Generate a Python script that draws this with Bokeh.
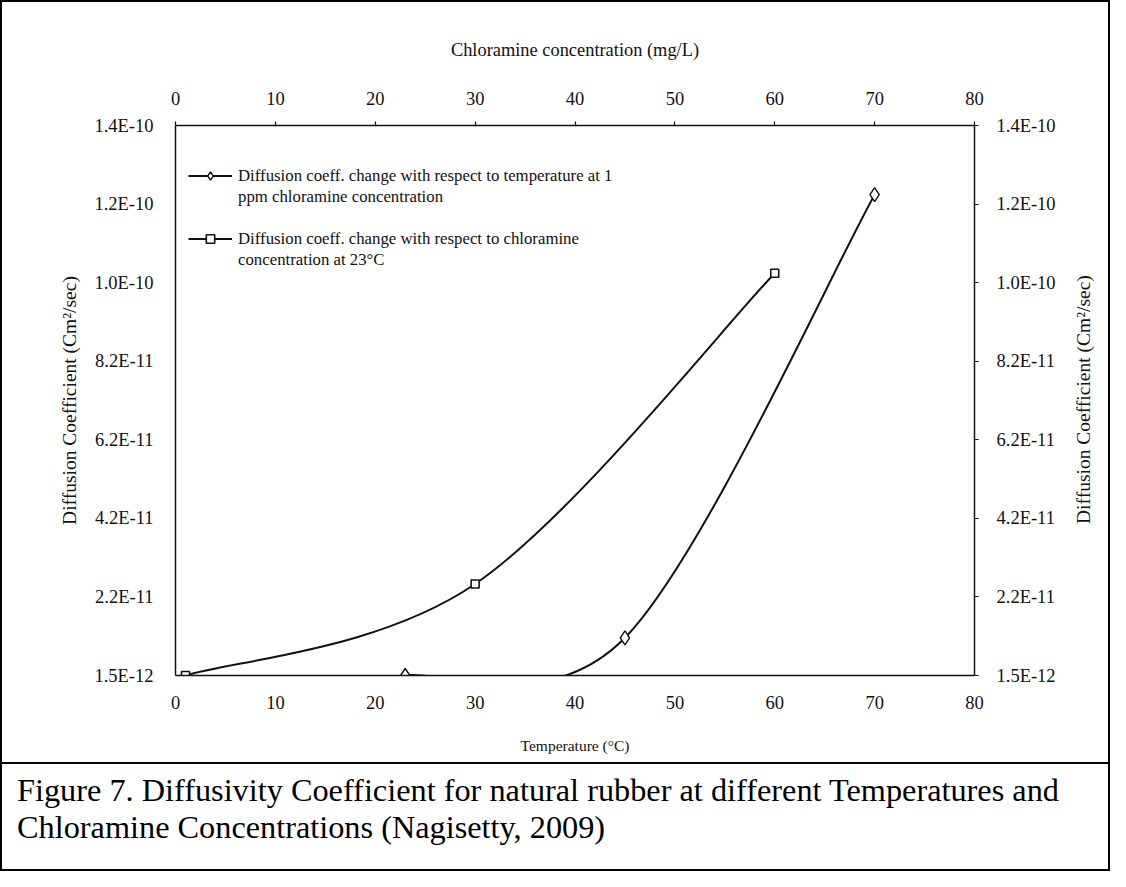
from bokeh.plotting import figure
from bokeh.models import (Range1d, LinearAxis, FixedTicker, Legend, LegendItem, Div)
from bokeh.layouts import column, row
from bokeh.embed import file_html
from bokeh.resources import INLINE

# ---------------- data ----------------
temp_x = [23, 45, 70]                       # Temperature (deg C)
temp_y = [1.5e-12, 1.11e-11, 1.239e-10]     # diffusion coeff (cm2/s)
conc_x = [1, 30, 60]                        # Chloramine concentration (mg/L)
conc_y = [1.5e-12, 2.48e-11, 1.039e-10]

x_ticks = [0, 10, 20, 30, 40, 50, 60, 70, 80]
y_ticks = [1.5e-12, 2.15e-11, 4.15e-11, 6.15e-11, 8.15e-11, 1.015e-10, 1.215e-10, 1.415e-10]
y_tick_labels = ["1.5E-12", "2.2E-11", "4.2E-11", "6.2E-11", "8.2E-11", "1.0E-10", "1.2E-10", "1.4E-10"]

legend_labels = [
    "Diffusion coeff. change with respect to temperature at 1",
    "ppm chloramine concentration",
    "Diffusion coeff. change with respect to chloramine",
    "concentration at 23\u00b0C",
]
x_title_bottom = "Temperature (\u00b0C)"
x_title_top = "Chloramine concentration (mg/L)"
y_title = "Diffusion Coefficient (Cm\u00b2/sec)"
caption_lines = [
    "Figure 7. Diffusivity Coefficient for natural rubber at different Temperatures and",
    "Chloramine Concentrations (Nagisetty, 2009)",
]

FONT = "Liberation Serif"
INK = "#111111"


def smooth_segments(xs, ys):
    """Cubic Bezier control points through the data (spreadsheet-style smoothing)."""
    n = len(xs)
    seg = {k: [] for k in ("x0", "y0", "x1", "y1", "cx0", "cy0", "cx1", "cy1")}
    for i in range(n - 1):
        xp, yp = (xs[i - 1], ys[i - 1]) if i > 0 else (xs[i], ys[i])
        xn, yn = (xs[i + 2], ys[i + 2]) if i + 2 < n else (xs[i + 1], ys[i + 1])
        seg["x0"].append(xs[i]); seg["y0"].append(ys[i])
        seg["x1"].append(xs[i + 1]); seg["y1"].append(ys[i + 1])
        seg["cx0"].append(xs[i] + (xs[i + 1] - xp) / 6.0)
        seg["cy0"].append(ys[i] + (ys[i + 1] - yp) / 6.0)
        seg["cx1"].append(xs[i + 1] - (xn - xs[i]) / 6.0)
        seg["cy1"].append(ys[i + 1] - (yn - ys[i]) / 6.0)
    return seg


W, H = 1106, 760          # whole chart box
RW = 50                   # strip holding the right-hand axis title
PW = W - RW               # figure width
FW, FH = 800, 550         # plot frame
p = figure(width=PW, height=H, output_backend="svg", toolbar_location=None,
           x_range=Range1d(0, 80), y_range=Range1d(y_ticks[0], y_ticks[-1]),
           x_axis_location=None, y_axis_location=None)
p.extra_x_ranges = {"conc": Range1d(0, 80)}
p.min_border_left = 173
p.min_border_right = PW - 173 - FW
p.min_border_top = 123
p.min_border_bottom = H - 123 - FH
p.outline_line_color = None
p.background_fill_color = "white"
p.border_fill_color = "white"
p.xgrid.visible = False
p.ygrid.visible = False

overrides = {t: l for t, l in zip(y_ticks, y_tick_labels)}


def style_axis(ax, tick_out, label_standoff, title_standoff, title_size):
    ax.axis_line_color = INK
    ax.axis_line_width = 1.5
    ax.major_tick_line_color = INK
    ax.major_tick_line_width = 1.2
    ax.major_tick_out = tick_out
    ax.major_tick_in = 0
    ax.minor_tick_line_color = None
    ax.major_label_text_font = FONT
    ax.major_label_text_font_size = "18.5px"
    ax.major_label_text_color = INK
    ax.major_label_standoff = label_standoff
    ax.axis_label_text_font = FONT
    ax.axis_label_text_font_style = "normal"
    ax.axis_label_text_font_size = title_size
    ax.axis_label_text_color = INK
    ax.axis_label_standoff = title_standoff


bottom = LinearAxis(ticker=FixedTicker(ticks=x_ticks), axis_label=x_title_bottom)
style_axis(bottom, 0, 20, 25, "15.5px")
p.add_layout(bottom, "below")

top = LinearAxis(x_range_name="conc", ticker=FixedTicker(ticks=x_ticks), axis_label=x_title_top)
style_axis(top, 4, 17, 29, "18.4px")
p.add_layout(top, "above")

left = LinearAxis(ticker=FixedTicker(ticks=y_ticks), axis_label=y_title)
left.major_label_overrides = overrides
style_axis(left, 0, 22, 11, "19.5px")
p.add_layout(left, "left")

right = LinearAxis(ticker=FixedTicker(ticks=y_ticks))
right.major_label_overrides = overrides
style_axis(right, 4, 18, 20, "19.5px")
p.add_layout(right, "right")

# curves
ts = smooth_segments(temp_x, temp_y)
cs = smooth_segments(conc_x, conc_y)
t_curve = p.bezier(x0=ts["x0"], y0=ts["y0"], x1=ts["x1"], y1=ts["y1"],
                   cx0=ts["cx0"], cy0=ts["cy0"], cx1=ts["cx1"], cy1=ts["cy1"],
                   line_color=INK, line_width=2)
c_curve = p.bezier(x0=cs["x0"], y0=cs["y0"], x1=cs["x1"], y1=cs["y1"],
                   cx0=cs["cx0"], cy0=cs["cy0"], cx1=cs["cx1"], cy1=cs["cy1"],
                   line_color=INK, line_width=2, x_range_name="conc")
t_pts = p.scatter(temp_x, temp_y, marker="diamond", size=14, fill_color="white",
                  line_color=INK, line_width=1.4)
c_pts = p.scatter(conc_x, conc_y, marker="square", size=8, fill_color="white",
                  line_color=INK, line_width=1.6, x_range_name="conc")
ghost = p.line(temp_x, temp_y, line_alpha=0)

legend = Legend(items=[
    LegendItem(label=legend_labels[0], renderers=[t_curve, t_pts]),
    LegendItem(label=legend_labels[1], renderers=[ghost]),
    LegendItem(label=" ", renderers=[ghost]),
    LegendItem(label=legend_labels[2], renderers=[c_curve, c_pts]),
    LegendItem(label=legend_labels[3], renderers=[ghost]),
])
legend.location = (13, 405)
legend.padding = 0
legend.margin = 0
legend.spacing = 0
legend.border_line_color = None
legend.background_fill_alpha = 0
legend.label_text_font = FONT
legend.label_text_font_size = "16.8px"
legend.label_text_color = INK
legend.label_height = 21
legend.glyph_height = 21
legend.glyph_width = 44
legend.label_standoff = 6
p.add_layout(legend, "center")

# right-hand axis title (reads bottom-to-top, centred on the plot frame)
rtitle = Div(text=y_title, width=RW, height=H, margin=0,
             styles={"writing-mode": "vertical-rl", "transform": "rotate(180deg)",
                     "text-align": "center", "font-family": FONT, "font-size": "19.5px",
                     "color": INK, "white-space": "nowrap", "padding-bottom": "36px",
                     "padding-right": "12px", "background-color": "white",
                     "box-sizing": "border-box"})

cap = Div(text="<br>".join(caption_lines), width=W, height=107, margin=0,
          styles={"font-family": FONT, "font-size": "32.3px", "line-height": "37px",
                  "color": "#000", "white-space": "nowrap", "padding-top": "8px",
                  "padding-left": "15px", "border-top": "2px solid black",
                  "background-color": "white"})

layout = column(row(p, rtitle, spacing=0), cap, spacing=0,
                styles={"border": "2px solid black", "background-color": "white"})

open("out.html", "w").write(file_html(layout, INLINE))
